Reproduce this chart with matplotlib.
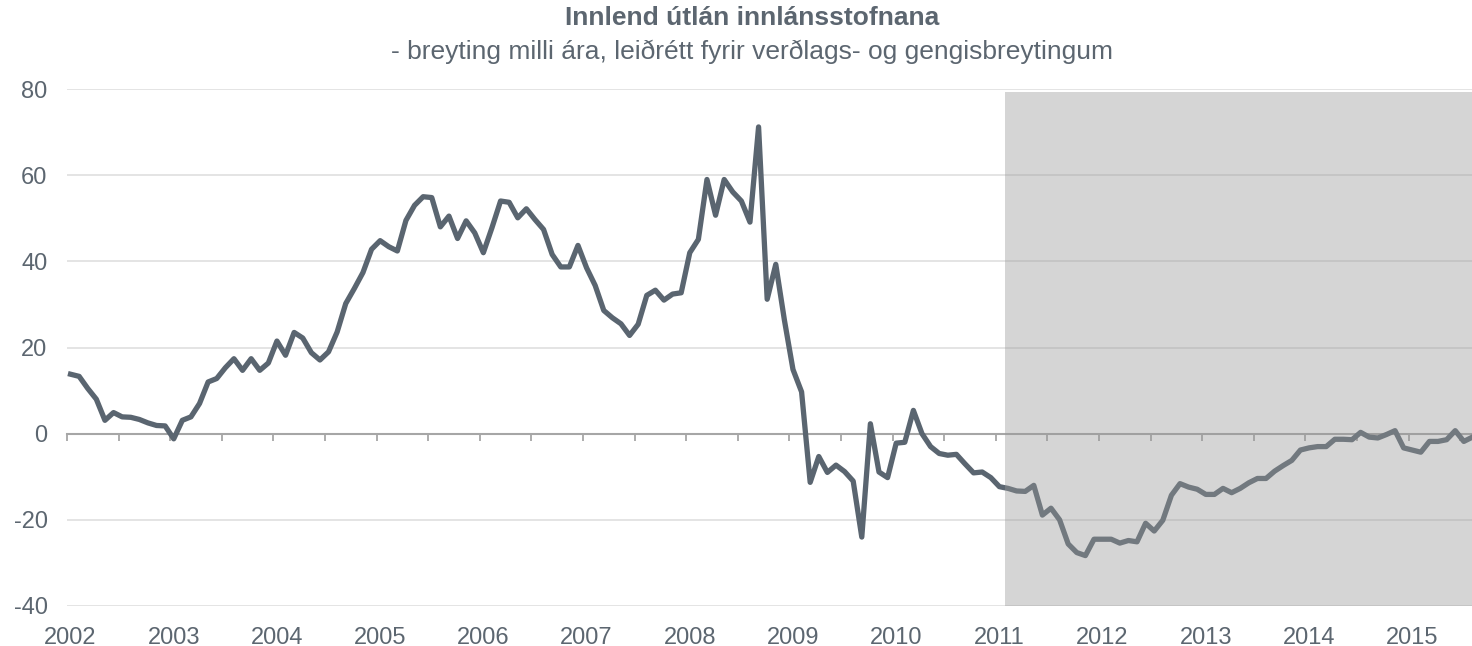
import numpy as np
import matplotlib.pyplot as plt

plt.rcParams['font.family'] = ['Liberation Sans', 'DejaVu Sans']
plt.rcParams['axes.unicode_minus'] = False

# Mánaðarleg gögn frá jan. 2002 (breyting milli ára, %)
gildi = [
    13.8, 13.3, 10.5, 8.0, 3.1, 4.9, 3.9, 3.8, 3.3, 2.5, 1.9, 1.8,
    -1.2, 3.1, 3.9, 7.0, 12.0, 12.8, 15.3, 17.4, 14.7, 17.4, 14.7, 16.4,
    21.5, 18.2, 23.5, 22.2, 18.8, 17.1, 19.0, 23.6, 30.2, 33.7, 37.4, 42.8,
    44.8, 43.4, 42.4, 49.5, 53.0, 55.0, 54.8, 48.0, 50.5, 45.3, 49.4, 46.6,
    42.0, 47.8, 54.0, 53.7, 50.1, 52.2, 49.7, 47.4, 41.6, 38.7, 38.7, 43.7,
    38.5, 34.4, 28.6, 26.9, 25.5, 22.8, 25.4, 32.1, 33.3, 31.0, 32.4, 32.7,
    42.0, 45.1, 59.0, 50.7, 59.0, 56.1, 54.0, 49.1, 71.2, 31.2, 39.3, 26.4,
    14.9, 9.7, -11.3, -5.3, -9.0, -7.3, -8.8, -11.0, -24.0, 2.3, -8.9, -10.2,
    -2.2, -2.0, 5.4, 0.0, -3.0, -4.6, -5.0, -4.8, -7.0, -9.1, -8.9, -10.2,
    -12.3, -12.7, -13.3, -13.4, -12.0, -18.9, -17.3, -20.0, -25.6, -27.6, -28.3, -24.5,
    -24.5, -24.5, -25.4, -24.8, -25.1, -20.8, -22.6, -20.1, -14.3, -11.6, -12.4, -12.9,
    -14.1, -14.1, -12.7, -13.7, -12.7, -11.4, -10.4, -10.4, -8.7, -7.4, -6.2, -3.8,
    -3.3, -3.0, -3.0, -1.3, -1.3, -1.4, 0.3, -0.8, -1.0, -0.2, 0.7, -3.3,
    -3.8, -4.3, -1.8, -1.8, -1.4, 0.7, -1.8, -0.8,
]
ar = [str(a) for a in range(2002, 2016)]
y_ticks = [-40, -20, 0, 20, 40, 60, 80]
skygging_fra = 108.66   # upphaf skyggða tímabilsins (mánuðir frá jan. 2002)
skygging_efst = 79.3

LITUR = '#5a6570'
TEXTI = '#5c6670'

x = np.arange(len(gildi))

fig = plt.figure(figsize=(14.72, 6.46), dpi=100)
ax = fig.add_axes([67 / 1472, 40 / 646, 1 - 67 / 1472, 517 / 646])
ax.set_xlim(-0.41, 162.95)
ax.set_ylim(-40, 80)

# gridlínur
ax.set_yticks(y_ticks)
ax.grid(axis='y', color='#e4e4e4', linewidth=1.4, zorder=0)
ax.set_axisbelow(True)

# línan sjálf
ax.plot(x, gildi, color=LITUR, linewidth=3.8, zorder=3)

# skyggða svæðið (liggur ofan á línunni)
ax.axvspan(skygging_fra, 170, ymin=0, ymax=(skygging_efst + 40) / 120,
           facecolor='#989898', alpha=0.4, edgecolor='none', zorder=4)

# ás við núll með hökum á hálfs árs fresti
for s in ['left', 'right', 'top']:
    ax.spines[s].set_visible(False)
ax.spines['bottom'].set_position(('data', 0))
ax.spines['bottom'].set_color('#a6a6a6')
ax.spines['bottom'].set_linewidth(1.5)
ax.spines['bottom'].set_zorder(2.5)
ax.set_xticks(np.arange(-0.41, 163, 6))
ax.set_xticklabels([])
ax.tick_params(axis='x', direction='out', length=5, width=1.3, color='#a6a6a6')
ax.tick_params(axis='y', length=0, pad=14, labelsize=17, labelcolor=TEXTI)

# ártöl neðst
sec = ax.secondary_xaxis(0.0)
sec.set_xticks(np.arange(0, len(gildi), 12), labels=ar)
sec.tick_params(length=0, pad=15, labelsize=17, labelcolor=TEXTI)
sec.spines['bottom'].set_visible(False)

fig.text(0.511, 1 - 18 / 646, 'Innlend útlán innlánsstofnana', ha='center', va='center',
         fontsize=19, fontweight='bold', color=TEXTI)
fig.text(0.511, 1 - 52 / 646, '- breyting milli ára, leiðrétt fyrir verðlags- og gengisbreytingum',
         ha='center', va='center', fontsize=19, color=TEXTI)

fig.savefig('out.png', dpi=100)
